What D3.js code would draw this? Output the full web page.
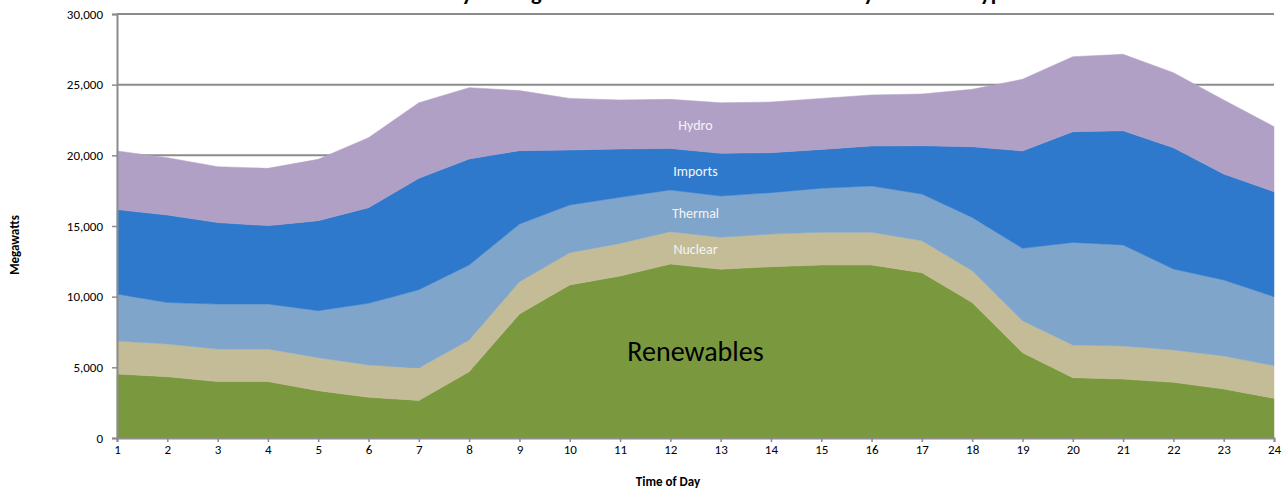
<!DOCTYPE html>
<html lang="en">
<head>
    <meta charset="UTF-8">
    <title>Hourly Average Breakdown of Total Production by Resource Type</title>
    <script src="https://d3js.org/d3.v7.min.js"></script>
    <style>
        body {
            margin: 0;
            background: #ffffff;
            font-family: Carlito, Calibri, Lato, "Open Sans", sans-serif;
        }
        svg {
            display: block;
        }
    </style>
</head>
<body>
    <svg width="1287" height="490"></svg>

    <script>
        // hours of the day
        const hours = d3.range(1, 25);

        // megawatts per resource type
        const renewables = [4530, 4340, 3990, 3990, 3350, 2880, 2660, 4690, 8770, 10830, 11460, 12310,
                            11940, 12120, 12240, 12240, 11700, 9580, 6040, 4270, 4170, 3940, 3470, 2810];
        const nuclear    = [2330, 2310, 2310, 2310, 2330, 2290, 2300, 2240, 2290, 2280, 2310, 2290,
                            2260, 2310, 2310, 2310, 2260, 2260, 2260, 2310, 2340, 2290, 2330, 2310];
        const thermal    = [3330, 2930, 3180, 3180, 3330, 4360, 5530, 5310, 4080, 3380, 3260, 2950,
                            2920, 2930, 3120, 3280, 3300, 3770, 5120, 7260, 7150, 5730, 5380, 4880];
        const imports    = [5970, 6200, 5760, 5540, 6370, 6770, 7880, 7500, 5190, 3890, 3420, 2940,
                            3020, 2830, 2750, 2830, 3420, 5000, 6890, 7830, 8080, 8580, 7500, 7430];
        const hydro      = [4150, 4050, 3960, 4060, 4340, 4950, 5350, 5050, 4250, 3650, 3470, 3470,
                            3580, 3580, 3610, 3610, 3660, 4060, 5070, 5310, 5410, 5310, 5240, 4600];

        const seriesNames = ["Renewables", "Nuclear", "Thermal", "Imports", "Hydro"];
        const seriesData = [renewables, nuclear, thermal, imports, hydro];
        const colors = ["#7a993e", "#c4bc97", "#80a5cb", "#2e79cc", "#b1a0c6"];

        const yTicks = [0, 5000, 10000, 15000, 20000, 25000, 30000];

        const rows = hours.map((h, i) => {
            const row = { hour: h };
            seriesNames.forEach((name, j) => row[name] = seriesData[j][i]);
            return row;
        });

        const svg = d3.select("svg");
        const plotLeft = 117, plotRight = 1274, plotTop = 14, plotBottom = 438;

        const x = d3.scaleLinear().domain([1, 24]).range([plotLeft, plotRight]);
        const y = d3.scaleLinear().domain([0, 30000]).range([plotBottom, plotTop]);

        // title, mostly cut off by the top edge like in the source
        svg.append("text")
            .attr("x", 712)
            .attr("y", 0)
            .attr("text-anchor", "middle")
            .attr("font-weight", "bold")
            .attr("font-size", 22.5)
            .text("Hourly Average Breakdown of Total Production by Resource Type");

        // gridlines
        svg.append("g")
            .selectAll("line")
            .data(yTicks.slice(1))
            .join("line")
            .attr("x1", plotLeft)
            .attr("x2", plotRight)
            .attr("y1", d => y(d))
            .attr("y2", d => y(d))
            .attr("stroke", "#8c8c8c")
            .attr("stroke-width", 2);

        // stacked areas
        const stack = d3.stack().keys(seriesNames);
        const layers = stack(rows);

        const area = d3.area()
            .x(d => x(d.data.hour))
            .y0(d => y(d[0]))
            .y1(d => y(d[1]));

        svg.append("g")
            .selectAll("path")
            .data(layers)
            .join("path")
            .attr("d", area)
            .attr("fill", (d, i) => colors[i])
            .attr("stroke", (d, i) => colors[i])
            .attr("stroke-width", 0.5);

        // y axis
        const yAxis = svg.append("g")
            .attr("transform", `translate(${plotLeft},0)`)
            .call(d3.axisLeft(y).tickValues(yTicks).tickSize(5).tickPadding(9).tickFormat(d3.format(",")));
        yAxis.select(".domain").attr("stroke", "#8c8c8c").attr("stroke-width", 2);
        yAxis.selectAll(".tick line").attr("stroke", "#8c8c8c").attr("stroke-width", 1.5);
        yAxis.selectAll(".tick text")
            .attr("font-family", "Carlito, Calibri, Lato, sans-serif")
            .attr("font-size", 13)
            .attr("fill", "#000");

        // x axis
        const xAxis = svg.append("g")
            .attr("transform", `translate(0,${plotBottom})`)
            .call(d3.axisBottom(x).tickValues(hours).tickSize(4).tickPadding(3).tickFormat(d3.format("d")));
        xAxis.select(".domain").attr("stroke", "#8c8c8c").attr("stroke-width", 2);
        xAxis.selectAll(".tick line").attr("stroke", "#8c8c8c").attr("stroke-width", 1.5);
        xAxis.selectAll(".tick text")
            .attr("font-family", "Carlito, Calibri, Lato, sans-serif")
            .attr("font-size", 13)
            .attr("fill", "#000");

        // axis titles
        svg.append("text")
            .attr("transform", "translate(19,245) rotate(-90)")
            .attr("text-anchor", "middle")
            .attr("font-weight", "bold")
            .attr("font-size", 13)
            .text("Megawatts");

        svg.append("text")
            .attr("x", 668)
            .attr("y", 486)
            .attr("text-anchor", "middle")
            .attr("font-weight", "bold")
            .attr("font-size", 13)
            .text("Time of Day");

        // series labels inside the areas
        const labelHour = 12.5;
        const labels = [
            { name: "Hydro", value: 22000 },
            { name: "Imports", value: 18750 },
            { name: "Thermal", value: 15780 },
            { name: "Nuclear", value: 13230 }
        ];
        svg.append("g")
            .selectAll("text")
            .data(labels)
            .join("text")
            .attr("x", x(labelHour))
            .attr("y", d => y(d.value))
            .attr("text-anchor", "middle")
            .attr("dominant-baseline", "middle")
            .attr("font-size", 14)
            .attr("fill", "#f4f4f4")
            .text(d => d.name);

        svg.append("text")
            .attr("x", x(labelHour))
            .attr("y", y(5940))
            .attr("text-anchor", "middle")
            .attr("dominant-baseline", "middle")
            .attr("font-size", 28)
            .attr("fill", "#000")
            .text("Renewables");
    </script>
</body>
</html>
